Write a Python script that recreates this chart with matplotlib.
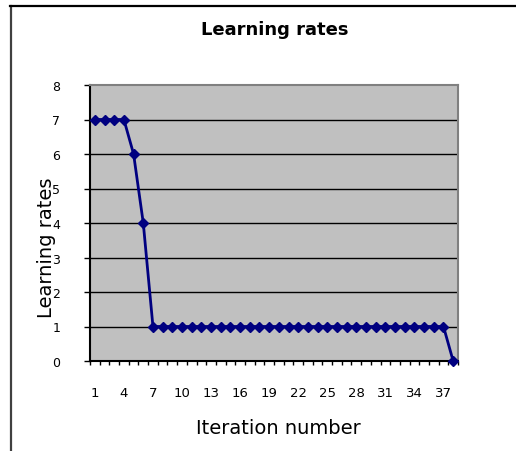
import matplotlib.pyplot as plt
from matplotlib.lines import Line2D

# data
iterations = list(range(1, 39))
rates = [7, 7, 7, 7, 6, 4,
         1, 1, 1, 1, 1, 1, 1, 1, 1, 1,
         1, 1, 1, 1, 1, 1, 1, 1, 1, 1,
         1, 1, 1, 1, 1, 1, 1, 1, 1, 1,
         1, 0]
x_labels = [1, 4, 7, 10, 13, 16, 19, 22, 25, 28, 31, 34, 37]
y_ticks = [0, 1, 2, 3, 4, 5, 6, 7, 8]

W, H = 516, 452
fig = plt.figure(figsize=(W / 100, H / 100), dpi=100)
ax = fig.add_axes([90 / W, 1 - 362 / H, 368 / W, 276 / H])
ax.set_facecolor('#c0c0c0')

# frame lines of the chart object (left and top only)
fig.add_artist(Line2D([10.5 / W, 10.5 / W], [0, 1 - 6.5 / H], color='#404040', lw=1.6,
                      transform=fig.transFigure))
fig.add_artist(Line2D([10 / W, 1], [1 - 6.5 / H, 1 - 6.5 / H], color='black', lw=1.6,
                      transform=fig.transFigure))

for y in y_ticks[1:-1]:
    ax.axhline(y, color='black', lw=1, zorder=1)

ax.plot(iterations, rates, color='#000080', lw=2, marker='D', markersize=5.5,
        clip_on=False, zorder=3)

ax.set_xlim(0.5, 38.5)
ax.set_ylim(0, 8)

# category boundaries as tick marks, labels every third category
ax.set_xticks([i + 0.5 for i in range(0, 39)])
ax.set_xticklabels([])
ax.set_xticks(x_labels, minor=True)
ax.set_xticklabels([str(v) for v in x_labels], minor=True)
ax.tick_params(axis='x', which='major', length=3, width=1, direction='out', color='black')
ax.tick_params(axis='x', which='minor', length=0, pad=18, labelsize=9.5, labelcolor='black')

ax.set_yticks(y_ticks)
ax.tick_params(axis='y', length=4.3, width=1, direction='out', pad=17, labelsize=9)

ax.spines['left'].set_color('black')
ax.spines['bottom'].set_color('black')
ax.spines['top'].set_color('#808080')
ax.spines['right'].set_color('#808080')
for s in ax.spines.values():
    s.set_linewidth(1.5)

ax.set_xlabel('Iteration number', fontsize=14)
ax.xaxis.set_label_coords((278.5 - 90) / 368, (362 - 428) / 276)
ax.xaxis.label.set_va('center')
ax.set_ylabel('Learning rates', fontsize=14)
ax.yaxis.set_label_coords((47 - 90) / 368, (362 - 248) / 276)
ax.yaxis.label.set_va('center')

fig.text(275 / W, 1 - 30 / H, 'Learning rates', ha='center', va='center',
         fontsize=13, fontweight='bold')

fig.savefig('out.png', dpi=100, facecolor='white')
